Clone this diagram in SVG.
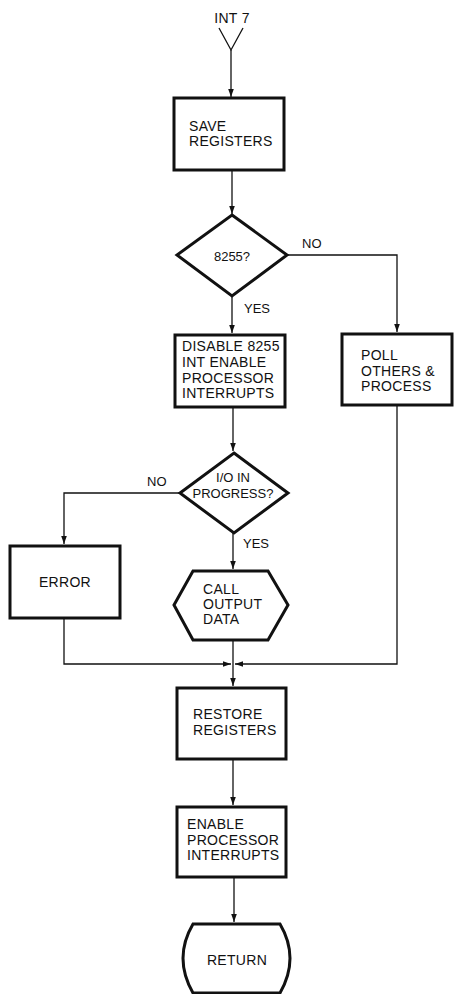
<svg xmlns="http://www.w3.org/2000/svg" width="457" height="994" viewBox="0 0 457 994">
<style>
.box{fill:#fff;stroke:#111;stroke-width:3}
.ln{fill:none;stroke:#111;stroke-width:1.3}
.t{font-family:"Liberation Sans",Arial,sans-serif;font-size:14px;fill:#111;letter-spacing:0.3px}
.s{font-family:"Liberation Sans",Arial,sans-serif;font-size:13px;fill:#111}
.c{text-anchor:middle}
</style>
<defs>
<marker id="ah" viewBox="0 0 10 10" refX="10" refY="5" markerWidth="8" markerHeight="8" markerUnits="userSpaceOnUse" orient="auto">
<path d="M0,1.5 L10,5 L0,8.5 Z" fill="#111"/>
</marker>
</defs>
<g id="connectors">
<path class="ln" d="M219,28 L231,50 L243,28"/>
<path class="ln" d="M231,50 L231,97" marker-end="url(#ah)"/>
<path class="ln" d="M232,170 L232,214" marker-end="url(#ah)"/>
<path class="ln" d="M232,296 L232,333" marker-end="url(#ah)"/>
<path class="ln" d="M287,255 L397,255 L397,332" marker-end="url(#ah)"/>
<path class="ln" d="M233,407 L233,451" marker-end="url(#ah)"/>
<path class="ln" d="M180,493 L64,493 L64,544" marker-end="url(#ah)"/>
<path class="ln" d="M233,533 L233,569" marker-end="url(#ah)"/>
<path class="ln" d="M64,618 L64,664 L231,664" marker-end="url(#ah)"/>
<path class="ln" d="M397,405 L397,664 L235,664" marker-end="url(#ah)"/>
<path class="ln" d="M233,640 L233,686" marker-end="url(#ah)"/>
<path class="ln" d="M233,759 L233,805" marker-end="url(#ah)"/>
<path class="ln" d="M234,877 L234,922" marker-end="url(#ah)"/>
</g>
<g id="int7"><text class="t c" x="232" y="23">INT 7</text></g>
<g id="save">
<rect class="box" x="174" y="98" width="110" height="72"/>
<text class="t" x="189" y="131">SAVE</text>
<text class="t" x="189" y="146">REGISTERS</text>
</g>
<g id="d8255">
<polygon class="box" points="232,215 287,255 232,296 177,255"/>
<text class="s c" x="232" y="261">8255?</text>
</g>
<text class="s" x="302" y="248">NO</text>
<text class="s" x="244" y="313">YES</text>
<g id="disable">
<rect class="box" x="175" y="335" width="110" height="72"/>
<text class="t" x="182" y="351">DISABLE 8255</text>
<text class="t" x="182" y="367">INT ENABLE</text>
<text class="t" x="182" y="383">PROCESSOR</text>
<text class="t" x="182" y="398">INTERRUPTS</text>
</g>
<g id="poll">
<rect class="box" x="342" y="334" width="110" height="71"/>
<text class="t" x="361" y="360">POLL</text>
<text class="t" x="361" y="376">OTHERS &amp;</text>
<text class="t" x="361" y="391">PROCESS</text>
</g>
<g id="dio">
<polygon class="box" points="234,453 288,493 234,533 180,493"/>
<text class="s c" x="233" y="482">I/O IN</text>
<text class="s c" x="233" y="498">PROGRESS?</text>
</g>
<text class="s" x="147" y="486">NO</text>
<text class="s" x="243" y="548">YES</text>
<g id="error">
<rect class="box" x="10" y="546" width="110" height="72"/>
<text class="t c" x="65" y="587">ERROR</text>
</g>
<g id="call">
<polygon class="box" points="193,571 268,571 288,605 268,640 193,640 174,605"/>
<text class="t" x="203" y="594">CALL</text>
<text class="t" x="203" y="609">OUTPUT</text>
<text class="t" x="203" y="624">DATA</text>
</g>
<g id="restore">
<rect class="box" x="177" y="688" width="109" height="71"/>
<text class="t" x="193" y="719">RESTORE</text>
<text class="t" x="193" y="735">REGISTERS</text>
</g>
<g id="enable">
<rect class="box" x="177" y="807" width="109" height="70"/>
<text class="t" x="187" y="829">ENABLE</text>
<text class="t" x="187" y="845">PROCESSOR</text>
<text class="t" x="187" y="860">INTERRUPTS</text>
</g>
<g id="return">
<path class="box" d="M193,924 L280,924 Q300,958 280,993 L193,993 Q173,958 193,924 Z"/>
<text class="t c" x="237" y="965">RETURN</text>
</g>
</svg>
